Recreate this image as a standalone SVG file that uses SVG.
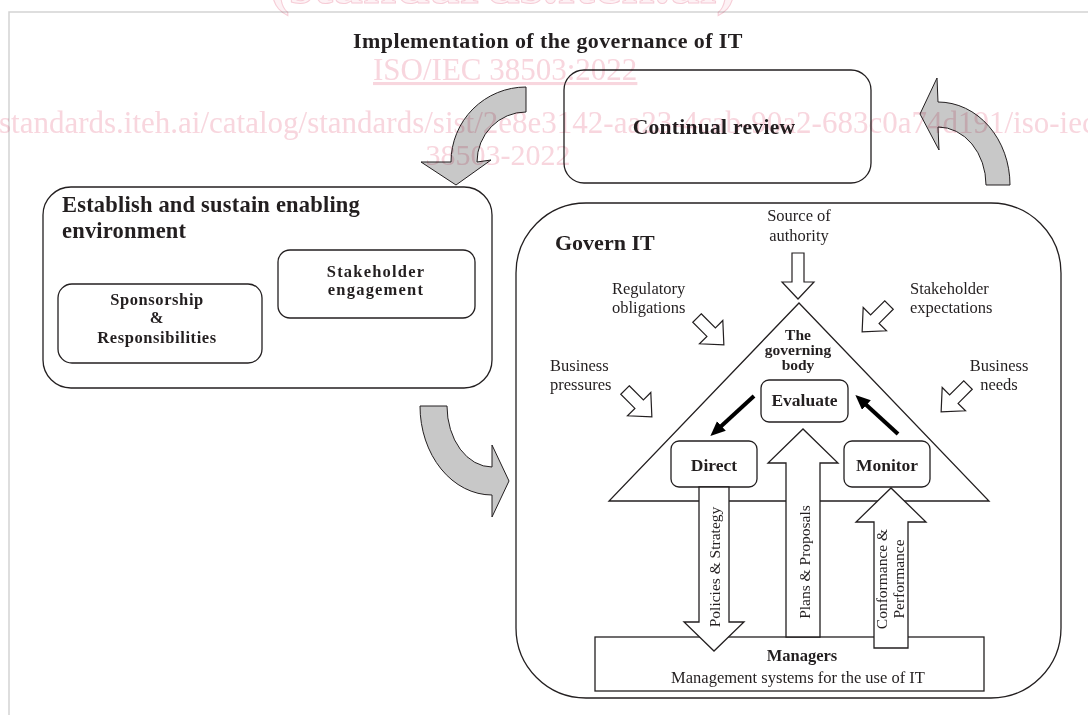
<svg xmlns="http://www.w3.org/2000/svg" width="1088" height="715" viewBox="0 0 1088 715">
  <defs>
    <style>
      .frame { fill: none; stroke: #d3d3d3; stroke-width: 1.5; }
      .box { fill: none; stroke: #231f20; stroke-width: 1.3; }
      .wbox { fill: #ffffff; stroke: #231f20; stroke-width: 1.3; }
      .hd { font-family: "Liberation Serif", "Times New Roman", serif; font-weight: bold; fill: #231f20; }
      .lb { font-family: "Liberation Serif", "Times New Roman", serif; fill: #231f20; }
      .curve { fill: #c8c8c8; stroke: #231f20; stroke-width: 1; stroke-linejoin: miter; }
      .inflow { fill: #ffffff; stroke: #231f20; stroke-width: 1.2; stroke-linejoin: miter; }
      .flow { fill: #ffffff; stroke: #231f20; stroke-width: 1.3; stroke-linejoin: miter; }
      .solid { stroke: #000000; stroke-width: 4; fill: none; }
      .wm { font-family: "Liberation Serif", "Times New Roman", serif; fill: #f8d6de; }
      .wm-outline { font-family: "Liberation Serif", "Times New Roman", serif; font-weight: bold; fill: #fdf2f5; stroke: #f6ccd6; stroke-width: 1; }
    </style>
    <!-- short hollow block arrow pointing along +x -->
    <path id="inArrow" d="M0,-6 H20 V-16.5 L38,0 L20,16.5 V6 H0 Z"/>
    <!-- longer hollow block arrow pointing along +x -->
    <path id="inArrowLong" d="M0,-6 H29 V-16 L46,0 L29,16 V6 H0 Z"/>
    <marker id="head" markerUnits="userSpaceOnUse" markerWidth="16" markerHeight="14" refX="6" refY="6.5" orient="auto">
      <path d="M0,0 L15,6.5 L0,13 Z" fill="#000000"/>
    </marker>
  </defs>

  <rect width="1088" height="715" fill="#ffffff"/>

  <!-- page frame -->
  <path class="frame" d="M9,715 V12 H1088"/>

  <!-- title -->
  <text class="hd" x="548" y="48" font-size="22" letter-spacing="0.4" text-anchor="middle">Implementation of the governance of IT</text>

  <!-- cycle connectors -->
  <g id="connectors">
    <!-- Continual review -> Establish -->
    <path class="curve" d="M526,87 A75 75 0 0 0 451,162 L421,162 L456,185 L491,160 L477,162 A49 50 0 0 1 526,112 Z"/>
    <!-- Establish -> Govern IT -->
    <path class="curve" d="M420,406 A72 89 0 0 0 492,495 L492,517 L509,481 L492,445 L492,467 A45 61 0 0 1 447,406 Z"/>
    <!-- Govern IT -> Continual review -->
    <path class="curve" d="M986,185 L1010,185 A72 83 0 0 0 938,102 L937,78 L920,114 L939,150 L938,127 A48 58 0 0 1 986,185 Z"/>
  </g>

  <!-- Continual review -->
  <g id="continual-review">
    <rect class="box" x="564" y="70" width="307" height="113" rx="20"/>
    <text class="hd" x="714" y="134" font-size="21.5" letter-spacing="0.3" text-anchor="middle">Continual review</text>
  </g>

  <!-- Establish and sustain enabling environment -->
  <g id="establish">
    <rect class="box" x="43" y="187" width="449" height="201" rx="28"/>
    <text class="hd" x="62" y="212" font-size="22.5" letter-spacing="0.2">Establish and sustain enabling</text>
    <text class="hd" x="62" y="238" font-size="22.5" letter-spacing="0.2">environment</text>
  </g>

  <g id="stakeholder-engagement">
    <rect class="box" x="278" y="250" width="197" height="68" rx="12"/>
    <text class="hd" x="376" y="277" font-size="16.5" letter-spacing="1.2" text-anchor="middle">Stakeholder</text>
    <text class="hd" x="376" y="295" font-size="16.5" letter-spacing="1.2" text-anchor="middle">engagement</text>
  </g>

  <g id="sponsorship">
    <rect class="box" x="58" y="284" width="204" height="79" rx="14"/>
    <text class="hd" x="157" y="305" font-size="16.5" letter-spacing="0.6" text-anchor="middle">Sponsorship</text>
    <text class="hd" x="157" y="323" font-size="16.5" letter-spacing="0.6" text-anchor="middle">&amp;</text>
    <text class="hd" x="157" y="343" font-size="16.5" letter-spacing="0.6" text-anchor="middle">Responsibilities</text>
  </g>

  <!-- Govern IT -->
  <g id="govern-it">
    <rect class="box" x="516" y="203" width="545" height="495" rx="70"/>
    <text class="hd" x="555" y="250" font-size="22">Govern IT</text>
  </g>

  <!-- external influences -->
  <g id="influences">
    <text class="lb" x="799" y="221" font-size="16.5" text-anchor="middle">Source of</text>
    <text class="lb" x="799" y="241" font-size="16.5" text-anchor="middle">authority</text>
    <use href="#inArrowLong" class="inflow" transform="translate(798,253) rotate(90)"/>

    <text class="lb" x="612" y="294" font-size="16.5">Regulatory</text>
    <text class="lb" x="612" y="313" font-size="16.5">obligations</text>
    <use href="#inArrow" class="inflow" transform="translate(697,318) rotate(45)"/>

    <text class="lb" x="910" y="294" font-size="16.5">Stakeholder</text>
    <text class="lb" x="910" y="313" font-size="16.5">expectations</text>
    <use href="#inArrow" class="inflow" transform="translate(889,305) rotate(135)"/>

    <text class="lb" x="550" y="371" font-size="16.5">Business</text>
    <text class="lb" x="550" y="390" font-size="16.5">pressures</text>
    <use href="#inArrow" class="inflow" transform="translate(625,390) rotate(45)"/>

    <text class="lb" x="999" y="371" font-size="16.5" text-anchor="middle">Business</text>
    <text class="lb" x="999" y="390" font-size="16.5" text-anchor="middle">needs</text>
    <use href="#inArrow" class="inflow" transform="translate(968,385) rotate(135)"/>
  </g>

  <!-- The governing body -->
  <g id="governing-body">
    <path class="box" d="M799,303 L989,501 L609,501 Z"/>
    <text class="hd" x="798" y="340" font-size="15.5" text-anchor="middle">The</text>
    <text class="hd" x="798" y="355" font-size="15.5" text-anchor="middle">governing</text>
    <text class="hd" x="798" y="370" font-size="15.5" text-anchor="middle">body</text>
  </g>

  <g id="managers">
    <rect class="wbox" x="595" y="637" width="389" height="54"/>
    <text class="hd" x="802" y="661" font-size="16.5" text-anchor="middle">Managers</text>
    <text class="lb" x="798" y="683" font-size="16.5" text-anchor="middle">Management systems for the use of IT</text>
  </g>

  <g id="evaluate">
    <rect class="wbox" x="761" y="380" width="87" height="42" rx="8"/>
    <text class="hd" x="804.5" y="406" font-size="17.5" text-anchor="middle">Evaluate</text>
  </g>

  <g id="direct">
    <rect class="wbox" x="671" y="441" width="86" height="46" rx="8"/>
    <text class="hd" x="714" y="471" font-size="17.5" text-anchor="middle">Direct</text>
  </g>

  <g id="monitor">
    <rect class="wbox" x="844" y="441" width="86" height="46" rx="8"/>
    <text class="hd" x="887" y="471" font-size="17.5" text-anchor="middle">Monitor</text>
  </g>

  <!-- internal flows -->
  <g id="flows">
    <line class="solid" x1="754" y1="396" x2="717" y2="430" marker-end="url(#head)"/>
    <line class="solid" x1="898" y1="434" x2="862" y2="401" marker-end="url(#head)"/>

    <path class="flow" d="M699,487 V622 H684 L714,651 L744,622 H729 V487 Z"/>
    <text class="lb" font-size="15.5" text-anchor="middle" dominant-baseline="central" transform="translate(714,567) rotate(-90)">Policies &amp; Strategy</text>

    <path class="flow" d="M786,637 V463 H768 L803,429 L838,463 H820 V637 Z"/>
    <text class="lb" font-size="15.5" text-anchor="middle" dominant-baseline="central" transform="translate(804,562) rotate(-90)">Plans &amp; Proposals</text>

    <path class="flow" d="M874,648 V522 H856 L891,488 L926,522 H908 V648 Z"/>
    <g transform="translate(890,579) rotate(-90)">
      <text class="lb" y="-8.5" font-size="15.5" text-anchor="middle" dominant-baseline="central">Conformance &amp;</text>
      <text class="lb" y="8.5" font-size="15.5" text-anchor="middle" dominant-baseline="central">Performance</text>
    </g>
  </g>

  <!-- catalogue stamp printed over the page -->
  <g id="stamp" style="mix-blend-mode:multiply">
    <text class="wm-outline" x="503" y="3" font-size="60" text-anchor="middle">(standards.iteh.ai)</text>
    <text class="wm" x="373" y="80" font-size="31" text-decoration="underline">ISO/IEC 38503:2022</text>
    <text class="wm" x="-1" y="133" font-size="31">standards.iteh.ai/catalog/standards/sist/2e8e3142-aa23-4cab-90a2-683c0a74d191/iso-iec-</text>
    <text class="wm" x="498" y="165" font-size="30" text-anchor="middle">38503-2022</text>
  </g>
</svg>
